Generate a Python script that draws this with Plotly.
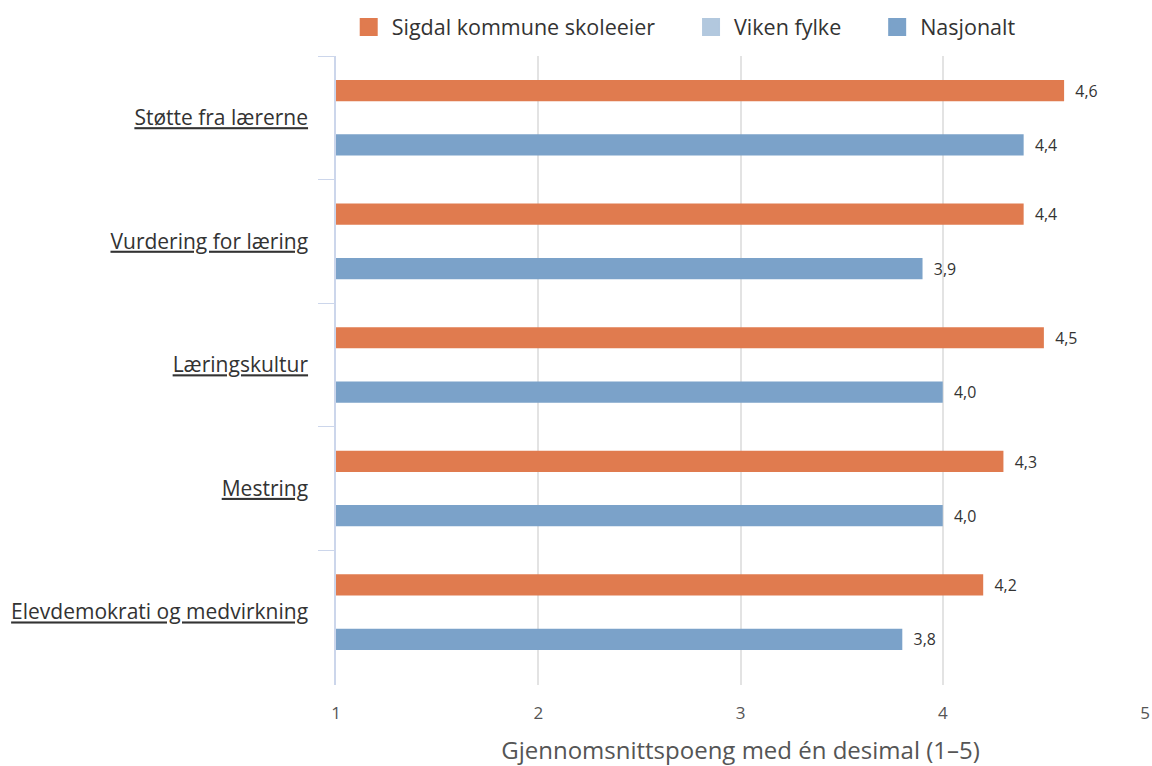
import plotly.graph_objects as go

categories = ["Støtte fra lærerne", "Vurdering for læring", "Læringskultur", "Mestring", "Elevdemokrati og medvirkning"]
sigdal = [4.6, 4.4, 4.5, 4.3, 4.2]
viken = [None, None, None, None, None]
nasjonalt = [4.4, 3.9, 4.0, 4.0, 3.8]
x_ticks = [1, 2, 3, 4, 5]

series = [
    ("Sigdal kommune skoleeier", sigdal, "#E07B4F"),
    ("Viken fylke", viken, "#B2C8DE"),
    ("Nasjonalt", nasjonalt, "#7BA2C9"),
]

font_family = "Open Sans, DejaVu Sans, sans-serif"
labels = ["<u>" + c + "</u>" for c in categories]
NB = "\u00a0"

fig = go.Figure()
for name, vals, color in series:
    texts = [("" if v is None else NB * 2 + f"{v:.1f}".replace(".", ",")) for v in vals]
    fig.add_trace(go.Bar(
        y=labels, x=vals, name=name, orientation="h", showlegend=False,
        marker=dict(color=color, line=dict(width=0)),
        text=texts, textposition="outside", cliponaxis=False,
        textfont=dict(size=18, color="#333333", family=font_family),
    ))

# legend entries (square swatches)
for name, vals, color in series:
    fig.add_trace(go.Scatter(
        x=[None], y=[None], mode="markers", name=name + NB * 5,
        marker=dict(symbol="square", size=16, color=color, line=dict(width=2, color=color)),
        showlegend=True, hoverinfo="skip",
    ))

fig.update_layout(
    width=1152, height=766,
    margin=dict(l=336, r=7, t=56, b=81, autoexpand=False),
    paper_bgcolor="white", plot_bgcolor="white",
    barmode="group", bargap=0.34, bargroupgap=0.22,
    font=dict(family=font_family, color="#333333"),
    showlegend=True,
    legend=dict(orientation="h", x=0.012, xanchor="left", y=1.046, yanchor="middle",
                font=dict(size=21.5, color="#333333"),
                traceorder="normal", itemwidth=36, itemsizing="trace"),
    xaxis=dict(range=[1, 5], tickvals=x_ticks, ticktext=[str(t) for t in x_ticks],
               showgrid=True, gridcolor="#E3E3E3", gridwidth=1.5, zeroline=False,
               showline=False, ticks="", tickfont=dict(size=17, color="#555555"),
               ticklabelstandoff=16, ticklabeloverflow="allow", automargin=False,
               title=dict(text="Gjennomsnittspoeng med én desimal (1–5)",
                          font=dict(size=24, color="#555555"), standoff=19)),
    yaxis=dict(autorange=False, range=[4.59, -0.5], type="category",
               showline=True, linecolor="#CCD6EB", linewidth=1.5,
               ticks="outside", tickson="boundaries", ticklen=16, tickcolor="#CCD6EB",
               tickfont=dict(size=21, color="#333333"), ticklabelstandoff=22,
               automargin=False, showgrid=False),
)

fig.write_html(
    "out.html",
    config={"displayModeBar": False},
    post_script="document.body.style.margin='0';document.body.style.overflow='hidden';",
)
